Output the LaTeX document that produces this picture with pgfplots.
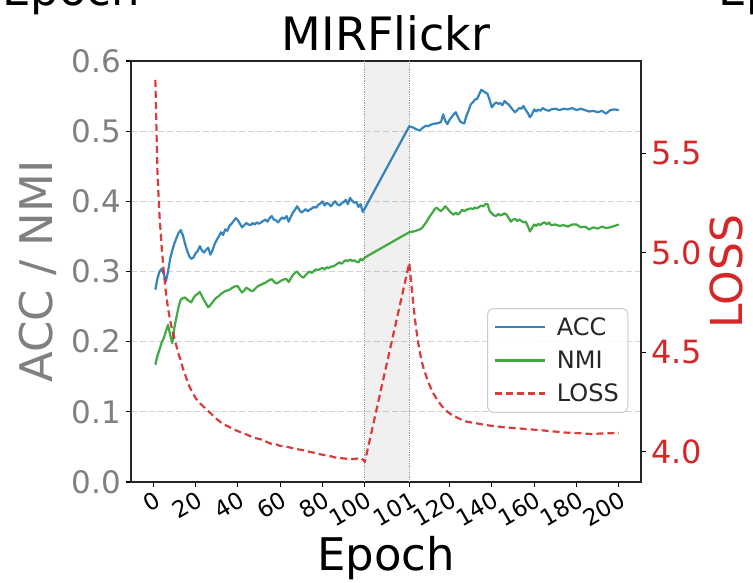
\documentclass[border=0pt]{standalone}
\usepackage{fontspec}
\setmainfont{DejaVu Sans}
\usepackage{pgfplots}
\pgfplotsset{compat=1.18}
\definecolor{mblue}{HTML}{1F77B4}
\definecolor{mgreen}{HTML}{2CA02C}
\definecolor{mred}{HTML}{D62728}
\definecolor{labgray}{HTML}{808080}
\newcommand{\fs}[1]{\fontsize{#1pt}{#1pt}\selectfont}
\pgfplotsset{
  common/.style={
    scale only axis, width=510pt, height=421pt,
    xmin=-10.5, xmax=230.5,
    tick align=outside, major tick length=5pt,
    every tick/.style={black, line width=1.1pt},
    axis line style={black!85, line width=1.6pt},
  },
  accstyle/.style={mblue, line width=2.2pt, draw opacity=0.9, line join=round},
  nmistyle/.style={mgreen, line width=2.2pt, draw opacity=0.9, line join=round},
  lossstyle/.style={mred, line width=2.2pt, draw opacity=0.9, dash pattern=on 7pt off 4pt, line join=round},
}
\begin{document}
\begin{tikzpicture}
\begin{axis}[common,
  ymin=0, ymax=0.6,
  tick pos=left,
  xtick={0,20,40,60,80,100,121,140,160,180,200,220},
  xticklabels={0,20,40,60,80,100,101,120,140,160,180,200},
  ytick={0,0.1,0.2,0.3,0.4,0.5,0.6},
  yticklabels={0.0,0.1,0.2,0.3,0.4,0.5,0.6},
  ymajorgrids,
  major grid style={black!17, line width=1.2pt, dash pattern=on 6pt off 3pt},
  xticklabel style={font=\fs{23}, rotate=30, anchor=north east, inner sep=0pt},
  xticklabel shift=3pt,
  yticklabel style={font=\fs{31}, text=labgray, inner sep=0pt},
  yticklabel shift=5pt,
  title={MIRFlickr},
  title style={font=\fs{46}, anchor=base, yshift=5pt},
  xlabel={Epoch},
  xlabel style={font=\fs{45}, at={(axis description cs:0.5,0)}, anchor=base, yshift=-88pt},
  ylabel={ACC / NMI},
  ylabel style={font=\fs{45}, text=labgray, inner sep=0pt, at={([xshift=-78pt]axis description cs:0,0.5)}, anchor=base},
]
\addplot[draw=none, fill=black, fill opacity=0.06, forget plot] coordinates {(100,0) (100,0.6) (121,0.6) (121,0)} -- cycle;
\addplot[black!40, line width=1.2pt, densely dotted, forget plot] coordinates {(100,0) (100,0.6)};
\addplot[black!40, line width=1.2pt, densely dotted, forget plot] coordinates {(121,0) (121,0.6)};
% ACC (x = epoch for epochs <= 100, x = epoch + 20 for epochs >= 101)
\addplot[accstyle] coordinates {
(1,0.274) (2,0.290) (3,0.300) (4,0.304) (5,0.296) (6,0.286) (7,0.300) (8,0.318) (9,0.330) (10,0.340)
(11,0.348) (12,0.355) (13,0.359) (14,0.352) (15,0.340) (16,0.330) (17,0.322) (18,0.318) (19,0.320) (20,0.326)
(21,0.329) (22,0.336) (23,0.330) (24,0.327) (25,0.331) (26,0.334) (27,0.324) (28,0.330) (29,0.339) (30,0.345)
(31,0.350) (32,0.356) (33,0.352) (34,0.360) (35,0.358) (36,0.365) (37,0.368) (38,0.372) (39,0.376) (40,0.373)
(41,0.368) (42,0.363) (43,0.366) (44,0.369) (45,0.367) (46,0.366) (47,0.369) (48,0.367) (49,0.370) (50,0.368)
(51,0.370) (52,0.372) (53,0.374) (54,0.371) (55,0.376) (56,0.379) (57,0.374) (58,0.373) (59,0.370) (60,0.374)
(61,0.377) (62,0.375) (63,0.379) (64,0.371) (65,0.378) (66,0.384) (67,0.388) (68,0.393) (69,0.388) (70,0.384)
(71,0.386) (72,0.389) (73,0.386) (74,0.388) (75,0.390) (76,0.392) (77,0.391) (78,0.395) (79,0.397) (80,0.400)
(81,0.394) (82,0.398) (83,0.396) (84,0.393) (85,0.397) (86,0.400) (87,0.396) (88,0.394) (89,0.397) (90,0.399)
(91,0.402) (92,0.396) (93,0.405) (94,0.401) (95,0.398) (96,0.399) (97,0.392) (98,0.396) (99,0.385) (100,0.390)
(121,0.507) (122,0.506) (123,0.505) (124,0.503) (125,0.502) (126,0.501) (127,0.504) (128,0.506) (129,0.508) (130,0.507)
(131,0.509) (132,0.510) (133,0.511) (134,0.511) (135,0.512) (136,0.513) (137,0.524) (138,0.515) (139,0.510) (140,0.516)
(141,0.520) (142,0.524) (143,0.527) (144,0.520) (145,0.514) (146,0.512) (147,0.511) (148,0.522) (149,0.529) (150,0.538)
(151,0.541) (152,0.545) (153,0.546) (154,0.552) (155,0.559) (156,0.557) (157,0.555) (158,0.553) (159,0.544) (160,0.534)
(161,0.538) (162,0.541) (163,0.539) (164,0.540) (165,0.537) (166,0.543) (167,0.540) (168,0.538) (169,0.534) (170,0.530)
(171,0.527) (172,0.530) (173,0.533) (174,0.532) (175,0.536) (176,0.530) (177,0.526) (178,0.520) (179,0.524) (180,0.531)
(181,0.528) (182,0.531) (183,0.529) (184,0.533) (185,0.531) (186,0.530) (187,0.529) (188,0.531) (190,0.532) (192,0.530)
(194,0.532) (196,0.531) (198,0.533) (200,0.530) (202,0.532) (204,0.530) (206,0.528) (208,0.529) (210,0.527) (212,0.529)
(214,0.525) (216,0.530) (218,0.531) (220,0.530)
};
% NMI
\addplot[nmistyle] coordinates {
(1,0.167) (2,0.180) (3,0.189) (4,0.199) (5,0.205) (6,0.215) (7,0.224) (8,0.210) (9,0.198) (10,0.220)
(11,0.235) (12,0.250) (13,0.260) (14,0.262) (15,0.263) (16,0.260) (17,0.258) (18,0.256) (19,0.262) (20,0.266)
(21,0.268) (22,0.271) (23,0.265) (24,0.259) (25,0.254) (26,0.249) (27,0.252) (28,0.256) (29,0.260) (30,0.263)
(31,0.265) (32,0.268) (33,0.270) (34,0.272) (35,0.273) (36,0.274) (37,0.276) (38,0.278) (39,0.279) (40,0.279)
(41,0.274) (42,0.270) (43,0.273) (44,0.277) (45,0.275) (46,0.273) (47,0.272) (48,0.275) (49,0.278) (50,0.280)
(51,0.281) (52,0.283) (53,0.284) (54,0.286) (55,0.288) (56,0.289) (57,0.286) (58,0.283) (59,0.284) (60,0.286)
(61,0.288) (62,0.289) (63,0.289) (64,0.285) (65,0.290) (66,0.295) (67,0.298) (68,0.300) (69,0.296) (70,0.293)
(71,0.291) (72,0.295) (73,0.298) (74,0.300) (75,0.298) (76,0.301) (77,0.303) (78,0.302) (79,0.304) (80,0.305)
(81,0.303) (82,0.306) (83,0.305) (84,0.307) (85,0.307) (86,0.309) (87,0.311) (88,0.313) (89,0.311) (90,0.314)
(91,0.316) (92,0.315) (93,0.317) (94,0.315) (95,0.316) (96,0.314) (97,0.313) (98,0.318) (99,0.316) (100,0.320)
(121,0.356) (123,0.357) (125,0.359) (126,0.360) (127,0.362) (128,0.366) (129,0.370) (130,0.375) (131,0.380) (132,0.384)
(133,0.389) (134,0.391) (135,0.388) (136,0.386) (137,0.389) (138,0.393) (139,0.390) (140,0.386) (141,0.383) (142,0.381)
(143,0.384) (144,0.381) (145,0.384) (146,0.388) (147,0.386) (148,0.388) (149,0.389) (150,0.390) (151,0.389) (152,0.391)
(153,0.390) (154,0.392) (155,0.394) (156,0.393) (157,0.396) (158,0.396) (159,0.386) (160,0.383) (161,0.380) (162,0.379)
(163,0.382) (164,0.380) (165,0.381) (166,0.383) (167,0.381) (168,0.376) (169,0.371) (170,0.374) (171,0.375) (172,0.372)
(173,0.374) (174,0.372) (175,0.370) (176,0.371) (177,0.365) (178,0.357) (179,0.362) (180,0.367) (181,0.365) (182,0.368)
(183,0.366) (184,0.369) (185,0.370) (186,0.367) (187,0.370) (188,0.366) (190,0.367) (192,0.365) (194,0.366) (196,0.364)
(198,0.367) (200,0.367) (202,0.363) (204,0.364) (206,0.360) (208,0.363) (210,0.361) (212,0.364) (214,0.362) (216,0.363)
(218,0.365) (220,0.367)
};
\end{axis}
\begin{axis}[common,
  ymin=3.849, ymax=5.962,
  axis y line*=right, axis x line=none,
  ytick={4.0,4.5,5.0,5.5},
  yticklabels={4.0,4.5,5.0,5.5},
  yticklabel style={font=\fs{32}, text=mred, inner sep=0pt},
  yticklabel shift=5pt,
  ylabel={LOSS},
  ylabel style={font=\fs{44}, text=mred, inner sep=0pt, at={([xshift=611pt]axis description cs:0,0.5)}, anchor=base},
  legend style={at={(0.975,0.413)}, anchor=north east, draw=black!20, line width=1pt,
    rounded corners=5pt, fill=white, fill opacity=0.85, text opacity=1,
    font=\fs{24}, inner xsep=6pt, inner ysep=6pt, row sep=8pt, column sep=8pt,
    nodes={inner sep=3pt, text=black!85}},
  legend cell align=left,
  legend image code/.code={\draw[#1] (0pt,0pt) -- (50pt,0pt);},
]
\addlegendimage{accstyle}
\addlegendentry{ACC}
\addlegendimage{nmistyle}
\addlegendentry{NMI}
\addplot[lossstyle] coordinates {
(1,5.867) (2,5.40) (3,5.18) (4,5.03) (5,4.90) (6,4.80) (7,4.72) (8,4.66) (9,4.61) (10,4.57)
(11,4.53) (12,4.49) (13,4.46) (14,4.42) (15,4.39) (16,4.36) (17,4.33) (18,4.31) (19,4.29) (20,4.27)
(22,4.245) (24,4.225) (26,4.205) (28,4.185) (30,4.165) (32,4.148) (34,4.135) (36,4.125) (38,4.112) (40,4.105)
(42,4.095) (44,4.088) (46,4.078) (48,4.070) (50,4.065) (52,4.060) (54,4.048) (56,4.040) (58,4.038) (60,4.030)
(62,4.028) (64,4.024) (66,4.018) (68,4.014) (70,4.010) (72,4.006) (74,4.000) (76,3.996) (78,3.990) (80,3.986)
(82,3.982) (84,3.978) (86,3.972) (88,3.970) (90,3.967) (92,3.965) (94,3.964) (96,3.966) (98,3.970) (99,3.962) (100,3.950)
(121,4.948) (122,4.84) (123,4.73) (124,4.64) (125,4.56) (126,4.50) (127,4.45) (128,4.41) (129,4.38) (130,4.35)
(132,4.30) (134,4.265) (136,4.235) (138,4.21) (141,4.186) (145,4.165) (148,4.152) (153,4.143) (157,4.135) (163,4.127)
(170,4.120) (176,4.115) (182,4.110) (188,4.104) (195,4.097) (201,4.094) (207,4.090) (213,4.093) (220,4.095)
};
\addlegendentry{LOSS}
\end{axis}
\node[anchor=base west, font=\fs{45}, inner sep=0pt] at (-129pt,476pt) {Epoch};
\node[anchor=base west, font=\fs{45}, inner sep=0pt] at (587pt,476pt) {Epoch};
\pgfresetboundingbox
\path[use as bounding box] (-131pt,-100pt) rectangle (622pt,482pt);
\end{tikzpicture}
\end{document}
